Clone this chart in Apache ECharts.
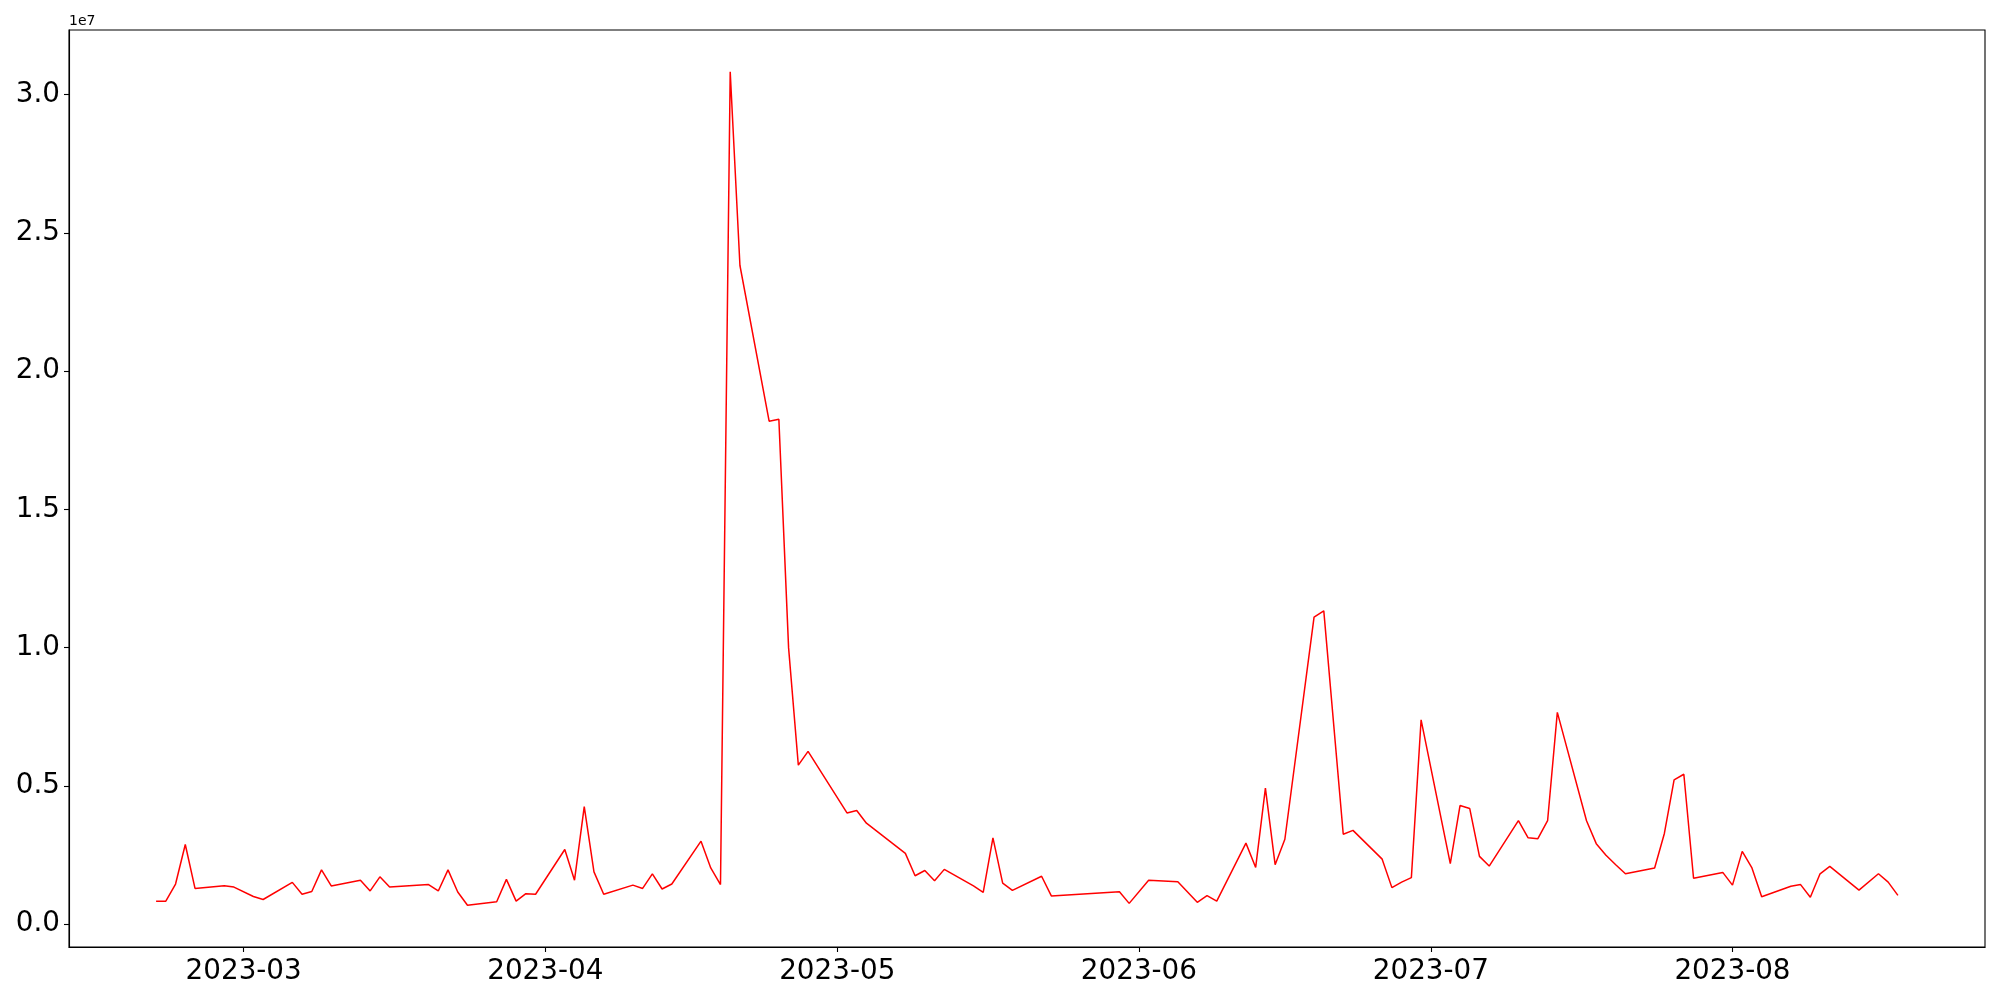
<!DOCTYPE html>
<html>
<head>
<meta charset="utf-8">
<script src="https://cdn.jsdelivr.net/npm/echarts@6/dist/echarts.min.js"></script>
<style>
  html, body { margin: 0; padding: 0; background: #fff; }
  #chart { width: 2000px; height: 1000px; }
</style>
</head>
<body>
<div id="chart"></div>
<script>
// ---- data ----
const dates = [
  '2023-02-20','2023-02-21','2023-02-22','2023-02-23','2023-02-24',
  '2023-02-27','2023-02-28','2023-03-02','2023-03-03',
  '2023-03-06','2023-03-07','2023-03-08','2023-03-09','2023-03-10',
  '2023-03-13','2023-03-14','2023-03-15','2023-03-16',
  '2023-03-20','2023-03-21','2023-03-22','2023-03-23','2023-03-24',
  '2023-03-27','2023-03-28','2023-03-29','2023-03-30','2023-03-31',
  '2023-04-03','2023-04-04','2023-04-05','2023-04-06','2023-04-07',
  '2023-04-10','2023-04-11','2023-04-12','2023-04-13','2023-04-14',
  '2023-04-17','2023-04-18','2023-04-19','2023-04-20','2023-04-21',
  '2023-04-24','2023-04-25','2023-04-26','2023-04-27','2023-04-28',
  '2023-05-02','2023-05-03','2023-05-04',
  '2023-05-08','2023-05-09','2023-05-10','2023-05-11','2023-05-12',
  '2023-05-15','2023-05-16','2023-05-17','2023-05-18','2023-05-19',
  '2023-05-22','2023-05-23','2023-05-30','2023-05-31','2023-06-02',
  '2023-06-05','2023-06-07','2023-06-08','2023-06-09',
  '2023-06-12','2023-06-13','2023-06-14','2023-06-15','2023-06-16',
  '2023-06-19','2023-06-20','2023-06-22','2023-06-23',
  '2023-06-26','2023-06-27','2023-06-28','2023-06-29','2023-06-30',
  '2023-07-03','2023-07-04','2023-07-05','2023-07-06','2023-07-07',
  '2023-07-10','2023-07-11','2023-07-12','2023-07-13','2023-07-14',
  '2023-07-17','2023-07-18','2023-07-19','2023-07-20','2023-07-21',
  '2023-07-24','2023-07-25','2023-07-26','2023-07-27','2023-07-28',
  '2023-07-31','2023-08-01','2023-08-02','2023-08-03','2023-08-04',
  '2023-08-07','2023-08-08','2023-08-09','2023-08-10','2023-08-11',
  '2023-08-14','2023-08-16','2023-08-17','2023-08-18'
];
const values = [
  830000, 830000, 1450000, 2880000, 1290000,
  1390000, 1340000, 1000000, 890000,
  1510000, 1080000, 1180000, 1960000, 1380000,
  1590000, 1200000, 1710000, 1340000,
  1430000, 1200000, 1960000, 1160000, 680000,
  810000, 1620000, 830000, 1100000, 1080000,
  2700000, 1590000, 4250000, 1890000, 1080000,
  1410000, 1290000, 1820000, 1270000, 1450000,
  3000000, 2030000, 1430000, 30830000, 23820000,
  18190000, 18260000, 9990000, 5750000, 6250000,
  4020000, 4110000, 3650000,
  2560000, 1750000, 1940000, 1570000, 1980000,
  1380000, 1150000, 3120000, 1480000, 1220000,
  1730000, 1020000, 1170000, 750000, 1590000,
  1530000, 790000, 1030000, 830000,
  2930000, 2050000, 4920000, 2150000, 3070000,
  11100000, 11330000, 3250000, 3390000,
  2350000, 1320000, 1520000, 1680000, 7390000,
  2190000, 4290000, 4180000, 2450000, 2100000,
  3740000, 3120000, 3090000, 3740000, 7660000,
  3740000, 2910000, 2490000, 2150000, 1820000,
  2030000, 3280000, 5220000, 5420000, 1660000,
  1870000, 1410000, 2630000, 2030000, 990000,
  1370000, 1430000, 970000, 1820000, 2090000,
  1230000, 1820000, 1520000, 1040000
];
const xTickLabels = ['2023-03','2023-04','2023-05','2023-06','2023-07','2023-08'];
const yTickValues = [0, 5000000, 10000000, 15000000, 20000000, 25000000, 30000000];
const yScaleLabel = '1e7';

// ---- build ----
function toTs(s) {
  const p = s.split('-').map(Number);
  return Date.UTC(p[0], p[1] - 1, p[2] || 1);
}
const seriesData = dates.map((d, i) => [toTs(d), values[i]]);
const xTickValues = xTickLabels.map(toTs);

const xs = seriesData.map(p => p[0]);
const xMin0 = Math.min(...xs), xMax0 = Math.max(...xs);
const xPad = (xMax0 - xMin0) * 0.05;
const yMin0 = Math.min(...values), yMax0 = Math.max(...values);
const yPad = (yMax0 - yMin0) * 0.05;

const FONT = '"DejaVu Sans", sans-serif';

const chart = echarts.init(document.getElementById('chart'), null, { renderer: 'canvas' });
chart.setOption({
  animation: false,
  backgroundColor: '#ffffff',
  grid: {
    left: 69, right: 15, top: 30, bottom: 53,
    show: true, borderColor: '#000', borderWidth: 1.1,
    outerBoundsMode: 'none', containLabel: false
  },
  xAxis: {
    type: 'value',
    scale: true,
    min: xMin0 - xPad,
    max: xMax0 + xPad,
    axisLine: { show: true, onZero: false, lineStyle: { color: '#000', width: 1.1 } },
    axisTick: { show: true, inside: false, length: 5, lineStyle: { color: '#000', width: 1.1 },
                customValues: xTickValues },
    axisLabel: {
      customValues: xTickValues,
      margin: 11,
      color: '#000',
      fontSize: 27.8,
      fontFamily: FONT,
      formatter: v => new Date(v).toISOString().slice(0, 7)
    },
    splitLine: { show: false },
    minorTick: { show: false }
  },
  yAxis: {
    type: 'value',
    min: yMin0 - yPad,
    max: yMax0 + yPad,
    name: yScaleLabel,
    nameLocation: 'end',
    nameGap: 2,
    nameTextStyle: { color: '#000', fontSize: 14, fontFamily: FONT, align: 'left', verticalAlign: 'bottom',
                     padding: [0, 0, 0, 0] },
    axisLine: { show: true, onZero: false, lineStyle: { color: '#000', width: 1.1 } },
    axisTick: { show: true, inside: false, length: 5, lineStyle: { color: '#000', width: 1.1 },
                customValues: yTickValues },
    axisLabel: {
      customValues: yTickValues,
      margin: 9,
      color: '#000',
      fontSize: 27.8,
      fontFamily: FONT,
      formatter: v => (v / 1e7).toFixed(1)
    },
    splitLine: { show: false }
  },
  series: [{
    type: 'line',
    data: seriesData,
    showSymbol: false,
    symbol: 'none',
    smooth: false,
    lineStyle: { color: '#ff0000', width: 1.5 },
    itemStyle: { color: '#ff0000' }
  }]
});
</script>
</body>
</html>
